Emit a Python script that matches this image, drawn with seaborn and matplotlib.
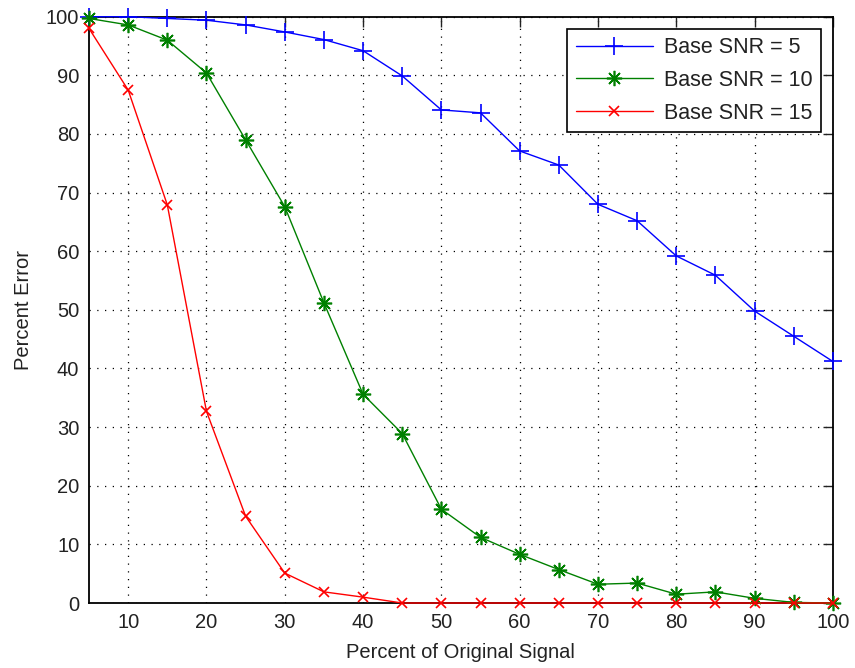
import matplotlib
matplotlib.use("Agg")
import matplotlib.pyplot as plt
import seaborn as sns
import pandas as pd

x_vals = [5, 10, 15, 20, 25, 30, 35, 40, 45, 50, 55, 60, 65, 70, 75, 80, 85, 90, 95, 100]
snr5 = [100, 100, 99.7, 99.4, 98.6, 97.4, 96.1, 94.2, 89.9, 84.1, 83.6, 77.1, 74.7, 68.0, 65.2, 59.2, 55.9, 49.8, 45.5, 41.2]
snr10 = [99.7, 98.6, 96.0, 90.4, 79.0, 67.6, 51.2, 35.6, 28.9, 16.0, 11.2, 8.3, 5.7, 3.2, 3.4, 1.5, 1.9, 0.8, 0.1, 0.0]
snr15 = [98.0, 87.5, 67.9, 32.7, 14.8, 5.1, 1.9, 1.0, 0.0, 0.0, 0.0, 0.0, 0.0, 0.0, 0.0, 0.0, 0.0, 0.0, 0.0, 0.0]
labels = ["Base SNR = 5", "Base SNR = 10", "Base SNR = 15"]
colors = ["#0000ff", "#008000", "#ff0000"]
xticks = [10, 20, 30, 40, 50, 60, 70, 80, 90, 100]
yticks = [0, 10, 20, 30, 40, 50, 60, 70, 80, 90, 100]

rows = []
for lab, ys in zip(labels, [snr5, snr10, snr15]):
    for xv, yv in zip(x_vals, ys):
        rows.append({"x": xv, "y": yv, "series": lab})
df = pd.DataFrame(rows)

sns.set_style("white")
plt.rcParams['font.family'] = ['Liberation Sans', 'DejaVu Sans']

fig = plt.figure(figsize=(8.55, 6.68), dpi=100)
ax = fig.add_axes([0.1041, 0.0973, 0.870, 0.8777])

markers = {labels[0]: "+", labels[1]: (8, 2, 0), labels[2]: "x"}
sizes_ms = [13, 11, 7]
for lab, col, ms in zip(labels, colors, sizes_ms):
    sub = df[df["series"] == lab]
    sns.lineplot(data=sub, x="x", y="y", ax=ax, color=col, marker=markers[lab],
                 markersize=ms, markeredgewidth=1.2, markeredgecolor=col,
                 linewidth=1.0, label=lab, clip_on=False, zorder=3)

ax.set_xlim(5, 100)
ax.set_ylim(0, 100)
ax.set_xticks(xticks)
ax.set_yticks(yticks)
ax.grid(True, color="black", linestyle=(0, (1, 5.2)), linewidth=0.9)
ax.tick_params(direction="in", length=7, width=1, top=True, right=True,
               labelsize=14.5, colors="#222222", pad=7)
for s in ax.spines.values():
    s.set_visible(True)
    s.set_color("black")
    s.set_linewidth(1.3)
ax.set_xlabel("Percent of Original Signal", fontsize=14.5, labelpad=8, color="#222222")
ax.set_ylabel("Percent Error", fontsize=14.5, labelpad=9, color="#222222")

leg = ax.legend(loc="upper right", fontsize=15.5, frameon=True, fancybox=False,
                edgecolor="black", framealpha=1, borderaxespad=0.55,
                handlelength=3.6, handletextpad=0.5, labelspacing=0.55, borderpad=0.4)
leg.get_frame().set_linewidth(1.2)
for t in leg.get_texts():
    t.set_color("#222222")

fig.savefig("out.png", dpi=100)
